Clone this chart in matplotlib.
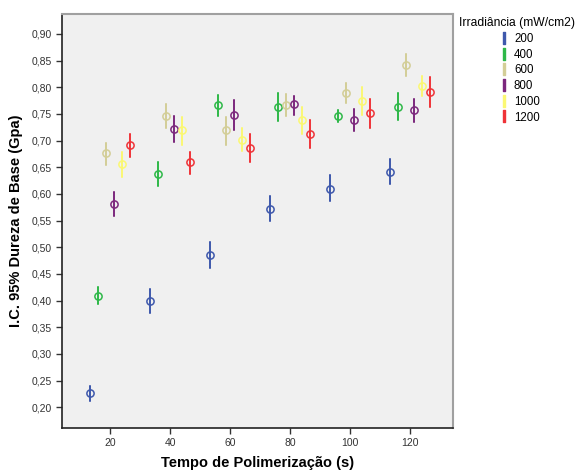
import matplotlib.pyplot as plt
import numpy as np
from matplotlib.lines import Line2D

plt.rcParams['font.family'] = ['Liberation Sans', 'DejaVu Sans']

# polymerization times and irradiance groups
times = [20, 40, 60, 80, 100, 120]
groups = ['200', '400', '600', '800', '1000', '1200']
colors = ['#3E58AC', '#2EB848', '#D3CE97', '#7C287D', '#FBF873', '#EF3338']

# means and 95% CI bounds, one row per irradiance, one column per time
means = [
    [0.226, 0.399, 0.486, 0.572, 0.610, 0.642],
    [0.409, 0.637, 0.767, 0.763, 0.746, 0.764],
    [0.676, 0.746, 0.719, 0.767, 0.789, 0.841],
    [0.581, 0.722, 0.748, 0.768, 0.739, 0.757],
    [0.656, 0.719, 0.702, 0.738, 0.775, 0.803],
    [0.691, 0.659, 0.686, 0.713, 0.751, 0.792],
]
lower = [
    [0.212, 0.376, 0.461, 0.550, 0.586, 0.618],
    [0.394, 0.615, 0.746, 0.736, 0.735, 0.738],
    [0.654, 0.724, 0.691, 0.746, 0.770, 0.821],
    [0.559, 0.697, 0.720, 0.748, 0.718, 0.734],
    [0.632, 0.691, 0.680, 0.712, 0.749, 0.783],
    [0.670, 0.637, 0.660, 0.686, 0.724, 0.764],
]
upper = [
    [0.239, 0.421, 0.510, 0.596, 0.635, 0.666],
    [0.425, 0.659, 0.786, 0.790, 0.757, 0.790],
    [0.696, 0.768, 0.744, 0.787, 0.809, 0.862],
    [0.603, 0.746, 0.776, 0.784, 0.759, 0.779],
    [0.679, 0.745, 0.724, 0.763, 0.800, 0.822],
    [0.712, 0.679, 0.712, 0.739, 0.778, 0.819],
]

fig = plt.figure(figsize=(5.87, 4.74), dpi=100)
ax = fig.add_axes([62 / 587, 1 - 428 / 474, (453 - 62) / 587, (428 - 14) / 474])
ax.set_facecolor('#F0F0F0')

dodge = 2.7
for i, g in enumerate(groups):
    x = np.array(times) + (i - 2.5) * dodge
    m = np.array(means[i])
    err = [m - np.array(lower[i]), np.array(upper[i]) - m]
    ax.errorbar(x, m, yerr=err, fmt='o', color=colors[i], mfc='none',
                mec=colors[i], ms=5.2, mew=1.1, elinewidth=1.4, capsize=1,
                capthick=1.4)

ax.set_xlim(4, 134.3)
ax.set_ylim(0.161, 0.9375)
ax.set_xticks([20, 40, 60, 80, 100, 120])
ax.set_yticks(np.arange(0.20, 0.901, 0.05))
ax.set_yticklabels([f'{v:.2f}'.replace('.', ',') for v in np.arange(0.20, 0.901, 0.05)])
ax.tick_params(labelsize=7.5, colors='#333333', length=4, width=1)
ax.tick_params(axis='x', pad=3)

for s in ['left', 'bottom']:
    ax.spines[s].set_color('#222222')
    ax.spines[s].set_linewidth(1.2)
for s in ['right', 'top']:
    ax.spines[s].set_color('#A0A0A0')
    ax.spines[s].set_linewidth(1.5)

ax.set_xlabel('Tempo de Polimerização (s)', fontsize=10.5, fontweight='bold', labelpad=6)
ax.set_ylabel('I.C. 95% Dureza de Base (Gpa)', fontsize=10.5, fontweight='bold', labelpad=6)

handles = [Line2D([], [], linestyle='none', marker='$\\mathrm{I}$', color=c, ms=9)
           for c in colors]
leg = fig.legend(handles, groups, title='Irradiância (mW/cm2)', loc='upper left',
                 bbox_to_anchor=(449 / 587, 1 - 7 / 474), frameon=False,
                 fontsize=8.3, title_fontsize=8.7, handletextpad=0.15,
                 labelspacing=0.32, handlelength=1.5)
leg._legend_box.align = 'center'

fig.savefig('out.png', dpi=100)
